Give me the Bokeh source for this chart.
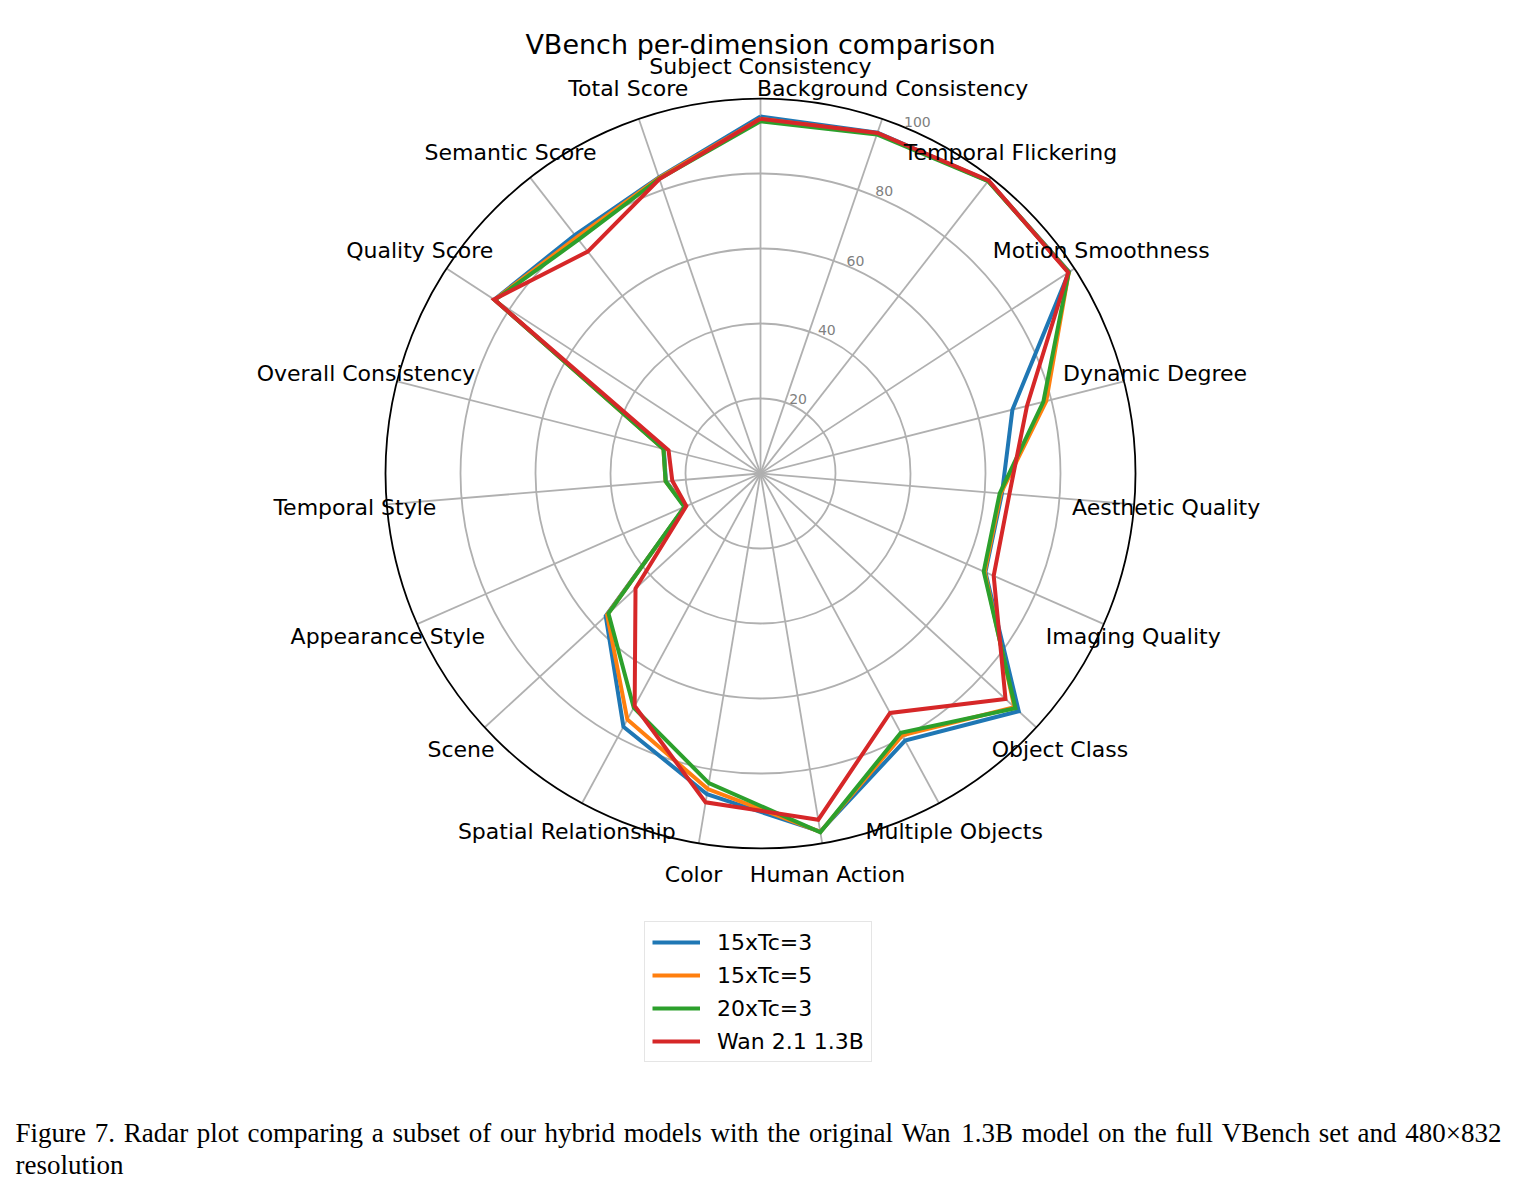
import numpy as np
from bokeh.plotting import figure
from bokeh.models import Range1d, Legend, LegendItem
from bokeh.core.properties import value
from bokeh.embed import file_html
from bokeh.resources import INLINE

# ---------------- data ----------------
dimensions = [
    "Subject Consistency", "Background Consistency", "Temporal Flickering",
    "Motion Smoothness", "Dynamic Degree", "Aesthetic Quality", "Imaging Quality",
    "Object Class", "Multiple Objects", "Human Action", "Color",
    "Spatial Relationship", "Scene", "Appearance Style", "Temporal Style",
    "Overall Consistency", "Quality Score", "Semantic Score", "Total Score",
]
series_names = ["15xTc=3", "15xTc=5", "20xTc=3", "Wan 2.1 1.3B"]
vals_15x_tc3 = [95.2, 96.1, 98.9, 98.3, 69.3, 64.6, 65.5, 93.6, 81.0, 96.8,
                86.7, 76.8, 56.1, 21.9, 25.3, 26.6, 84.8, 80.6, 83.5]
vals_15x_tc5 = [94.6, 95.9, 98.9, 98.2, 78.6, 64.3, 65.3, 92.0, 79.4, 96.9,
                85.3, 74.6, 55.6, 22.0, 25.4, 26.7, 84.7, 79.8, 83.3]
vals_20x_tc3 = [93.9, 95.6, 98.8, 98.2, 77.8, 64.0, 65.0, 92.4, 78.6, 97.0,
                83.7, 71.0, 55.1, 22.2, 25.4, 26.7, 84.6, 79.0, 83.1]
vals_wan = [94.6, 96.0, 99.0, 98.0, 73.3, 66.6, 67.9, 88.8, 72.6, 93.6,
            88.9, 70.5, 45.3, 21.6, 23.6, 25.3, 84.9, 75.0, 83.0]
series_values = [vals_15x_tc3, vals_15x_tc5, vals_20x_tc3, vals_wan]
series_colors = ["#1f77b4", "#ff7f0e", "#2ca02c", "#d62728"]

r_ticks = [20, 40, 60, 80, 100]
r_tick_labels = ["20", "40", "60", "80", "100"]
r_max = 100

title_text = "VBench per-dimension comparison"
caption_line1 = ("Figure 7. Radar plot comparing a subset of our hybrid models with the "
                 "original Wan 1.3B model on the full VBench set and 480\u00d7832")
caption_line2 = "resolution"

# ---------------- layout helpers ----------------
W, H = 1516, 1186
CX, CY = 760, 473      # pixel position of the polar centre
S = 375.0 / r_max      # pixels per data unit


def px(xp):
    return (xp - CX) / S


def py(yp):
    return (CY - yp) / S


p = figure(width=W, height=H,
           x_range=Range1d(px(0), px(W)), y_range=Range1d(py(H), py(0)),
           x_axis_type=None, y_axis_type=None,
           toolbar_location=None, output_backend="svg", min_border=0)
p.outline_line_color = None
p.background_fill_color = "white"
p.border_fill_color = "white"

N = len(dimensions)
theta = np.arange(N) * 2 * np.pi / N   # clockwise from the top

# grid circles
p.circle(x=[0] * (len(r_ticks) - 1), y=[0] * (len(r_ticks) - 1),
         radius=r_ticks[:-1], fill_color=None, line_color="#b0b0b0", line_width=1.8)
# spokes
p.segment(x0=[0] * N, y0=[0] * N,
          x1=list(r_max * np.sin(theta)), y1=list(r_max * np.cos(theta)),
          line_color="#b0b0b0", line_width=1.8)
# outer circle
p.circle(x=[0], y=[0], radius=[r_max], fill_color=None, line_color="black", line_width=1.8)

# radial tick labels
ang_lab = np.deg2rad(22.5)
p.text(x=[r * np.sin(ang_lab) for r in r_ticks],
       y=[r * np.cos(ang_lab) for r in r_ticks],
       text=r_tick_labels, text_font=value("DejaVu Sans"), text_font_size="14px",
       text_color="#808080", text_align="left", text_baseline="bottom")

# series
renderers = []
for vals, col in zip(series_values, series_colors):
    v = np.array(vals + vals[:1])
    t = np.concatenate([theta, theta[:1]])
    r = p.line(x=list(v * np.sin(t)), y=list(v * np.cos(t)), line_color=col,
               line_width=4, line_join="miter")
    renderers.append(r)

# dimension labels
lab_r = 407 / S
p.text(x=list(lab_r * np.sin(theta)), y=list(lab_r * np.cos(theta)), text=dimensions,
       text_font=value("DejaVu Sans"), text_font_size="22px", text_color="black",
       text_align="center", text_baseline="middle")

# title
p.text(x=[px(760)], y=[py(44)], text=[title_text], text_font=value("DejaVu Sans"),
       text_font_size="27px", text_color="black", text_align="center",
       text_baseline="alphabetic")

# legend
legend = Legend(items=[LegendItem(label=n, renderers=[r]) for n, r in zip(series_names, renderers)],
                location=(644, 124), orientation="vertical",
                label_text_font="DejaVu Sans", label_text_font_size="22px",
                label_text_color="black",
                glyph_width=48, glyph_height=26, label_height=26, label_standoff=17,
                spacing=7, padding=7, margin=0,
                border_line_color="#cccccc", border_line_width=1.5,
                background_fill_color="white", background_fill_alpha=1.0)
p.add_layout(legend)

# caption (justified first line, Times metrics)
TIMES_W = {
    "F": 556, "i": 278, "g": 500, "u": 500, "r": 333, "e": 444, "7": 500, ".": 250,
    "R": 667, "a": 444, "d": 500, "p": 500, "l": 278, "o": 500, "t": 278, "c": 444,
    "m": 778, "n": 500, "s": 389, "b": 500, "f": 333, "h": 500, "y": 500, "w": 722,
    "W": 944, "1": 500, "3": 500, "B": 667, "V": 722, "\u00d7": 564, "4": 500,
    "8": 500, "0": 500, "2": 500,
}
cap_size = 27
left_px, right_px = 15, 1501
words = caption_line1.split()
wwidths = [sum(TIMES_W.get(c, 500) for c in w) * cap_size / 1000 for w in words]
gap = (right_px - left_px - sum(wwidths)) / (len(words) - 1)
xs = []
cur = left_px
for w_ in wwidths:
    xs.append(px(cur))
    cur += w_ + gap
cap_x = xs + [px(left_px)]
cap_y = [py(1132)] * len(words) + [py(1164)]
p.text(x=cap_x, y=cap_y, text=words + [caption_line2],
       text_font=value("Liberation Serif"), text_font_size=f"{cap_size}px",
       text_color="black", text_align="left", text_baseline="alphabetic")

open("out.html", "w").write(file_html(p, INLINE))
